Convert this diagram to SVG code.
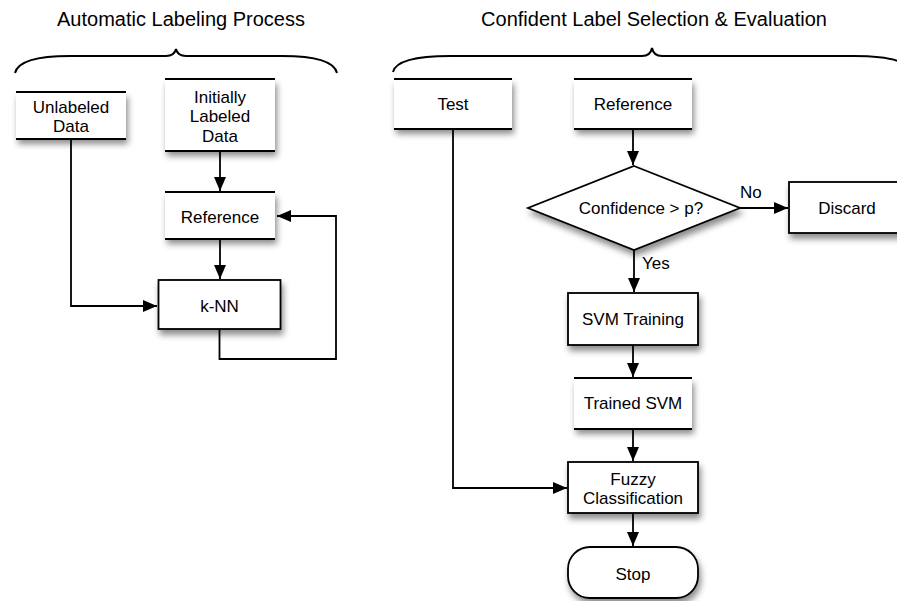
<svg xmlns="http://www.w3.org/2000/svg" width="897" height="601" viewBox="0 0 897 601">
<defs>
<filter id="sh" x="-20%" y="-20%" width="150%" height="160%">
<feDropShadow dx="2" dy="5" stdDeviation="3" flood-color="#000" flood-opacity="0.45"/>
</filter>
<marker id="ah" markerUnits="userSpaceOnUse" markerWidth="15" markerHeight="13" refX="14" refY="6" orient="auto">
<path d="M0,0 L14,6 L0,12 z" fill="#000"/>
</marker>
</defs>
<style>
text{font-family:"Liberation Sans",Arial,Helvetica,sans-serif;fill:#000}
.t{font-size:17px;text-anchor:middle}
.h{font-size:20px;text-anchor:middle}
.l{font-size:17px}
.bg{fill:#fff;stroke:none;filter:url(#sh)}
.full{fill:#fff;stroke:#000;stroke-width:1.8;filter:url(#sh)}
.edge{stroke:#000;stroke-width:1.8;fill:none}
.c{stroke:#000;stroke-width:1.8;fill:none}
.a{marker-end:url(#ah)}
.br{stroke:#000;stroke-width:2;fill:none}
</style>
<rect width="897" height="601" fill="#fff"/>
<g id="titles">
<text class="h" x="181" y="26">Automatic Labeling Process</text>
<text class="h" x="654" y="26">Confident Label Selection &amp; Evaluation</text>
<path class="br" d="M15,73 C18,60 40,56 70,56 L166,56 C172,56 175,53 176,49 C177,53 180,56 186,56 L282,56 C312,56 334,60 337,73"/>
<path class="br" d="M393,72 C396,60 420,56 450,56 L642,56 C648,56 651,53 652,48 C653,53 656,56 662,56 L854,56 C884,56 908,60 911,72"/>
</g>
<g id="connectors">
<path class="c a" d="M220,151 V191"/>
<path class="c a" d="M220,239 V279"/>
<path class="c a" d="M71,139 V306 H157"/>
<path class="c a" d="M219.5,329 V359 H336 V216 H277"/>
<path class="c a" d="M633,129 V165"/>
<path class="c a" d="M739,208 H788"/>
<path class="c a" d="M634,250 V292"/>
<path class="c a" d="M633,345 V377"/>
<path class="c a" d="M633,429 V461"/>
<path class="c a" d="M453,129 V488 H567"/>
<path class="c a" d="M633,513 V546"/>
<text class="l" x="740" y="198">No</text>
<text class="l" x="642" y="269">Yes</text>
</g>
<g id="unlabeled">
<rect class="bg" x="16" y="92" width="110" height="47"/>
<path class="edge" d="M16,92 H126 M16,139 H126"/>
<text class="t" x="71" y="113">Unlabeled</text>
<text class="t" x="71" y="132">Data</text>
</g>
<g id="initial">
<rect class="bg" x="165" y="79" width="110" height="72"/>
<path class="edge" d="M165,79 H275 M165,151 H275"/>
<text class="t" x="220" y="103">Initially</text>
<text class="t" x="220" y="122">Labeled</text>
<text class="t" x="220" y="142">Data</text>
</g>
<g id="refLeft">
<rect class="bg" x="165" y="192" width="110" height="47"/>
<path class="edge" d="M165,192 H275 M165,239 H275"/>
<text class="t" x="220" y="223">Reference</text>
</g>
<g id="knn">
<rect class="full" x="158.5" y="280" width="122" height="49"/>
<text class="t" x="219.5" y="312">k-NN</text>
</g>
<g id="test">
<rect class="bg" x="394" y="79" width="118" height="50"/>
<path class="edge" d="M394,79 H512 M394,129 H512"/>
<text class="t" x="453" y="110">Test</text>
</g>
<g id="refRight">
<rect class="bg" x="574" y="79" width="118" height="50"/>
<path class="edge" d="M574,79 H692 M574,129 H692"/>
<text class="t" x="633" y="110">Reference</text>
</g>
<g id="decision">
<path class="full" d="M634,166 L740,208 L634,250 L528,208 Z"/>
<text class="t" x="641" y="214">Confidence &gt; p?</text>
</g>
<g id="discard">
<rect class="full" x="789" y="182" width="116" height="51"/>
<text class="t" x="847" y="214">Discard</text>
</g>
<g id="svmTraining">
<rect class="full" x="568" y="293" width="130" height="52"/>
<text class="t" x="633" y="325">SVM Training</text>
</g>
<g id="trainedSvm">
<rect class="bg" x="574" y="378" width="118" height="51"/>
<path class="edge" d="M574,378 H692 M574,429 H692"/>
<text class="t" x="633" y="409">Trained SVM</text>
</g>
<g id="fuzzy">
<rect class="full" x="568" y="462" width="130" height="51"/>
<text class="t" x="633" y="485">Fuzzy</text>
<text class="t" x="633" y="504">Classification</text>
</g>
<g id="stop">
<rect class="full" x="568" y="547" width="130" height="51" rx="22" ry="22"/>
<text class="t" x="633" y="580">Stop</text>
</g>
</svg>
